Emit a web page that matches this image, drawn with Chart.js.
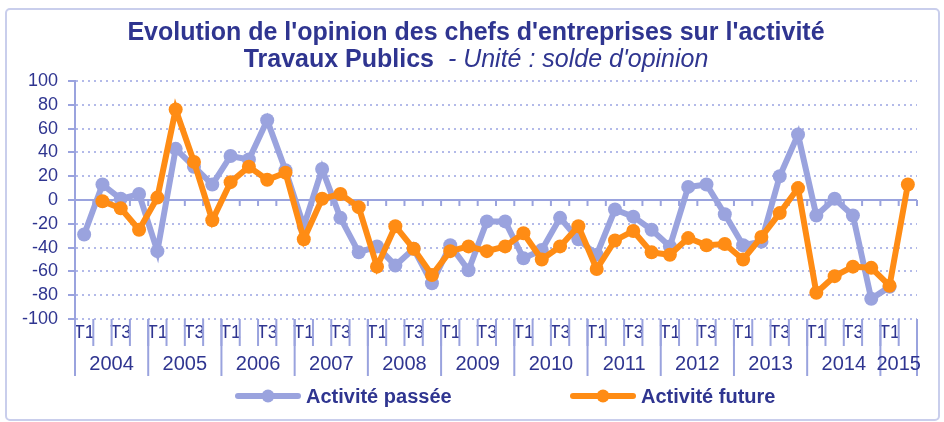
<!DOCTYPE html>
<html>
<head>
<meta charset="utf-8">
<script src="https://cdn.jsdelivr.net/npm/chart.js@4.4.1/dist/chart.umd.min.js"></script>
<style>
  html, body { margin: 0; padding: 0; background: #fff; }
  #wrap { position: relative; width: 944px; height: 422px; }
</style>
</head>
<body>
<div id="wrap"><canvas id="myChart" width="944" height="422"></canvas></div>
<script>
// données : solde d'opinion trimestriel, 2004 T1 -> 2015 T2
const years = ["2004", "2005", "2006", "2007", "2008", "2009", "2010", "2011", "2012", "2013", "2014", "2015"];
const quartersPerYear = [4, 4, 4, 4, 4, 4, 4, 4, 4, 4, 4, 2];
const quarterNames = ["T1", "T2", "T3", "T4"];

const activitePassee = [
  -29, 13, 1, 5,
  -43, 43, 28, 13,
  37, 34, 67, 25,
  -22, 26, -15, -44,
  -39, -55, -41, -70,
  -38, -59, -18, -18,
  -49, -42, -15, -33,
  -46, -8, -14, -25,
  -39, 11, 13, -12,
  -38, -35, 20, 55,
  -13, 1, -13, -83,
  -73, null
];
const activiteFuture = [
  null, -1, -7, -25,
  2, 76, 32, -17,
  15, 28, 17, 23,
  -33, 1, 5, -6,
  -56, -22, -41, -63,
  -43, -39, -43, -39,
  -28, -50, -39, -22,
  -58, -34, -26, -44,
  -46, -32, -38, -37,
  -50, -31, -11, 10,
  -78, -64, -56, -57,
  -72, 13
];

const titleLine1 = "Evolution de l'opinion des chefs d'entreprises sur l'activité";
const titleBold = "Travaux Publics";
const titleItalic = "  - Unité : solde d'opinion";

const quarterLabels = [];
quartersPerYear.forEach((n) => {
  for (let q = 0; q < n; q++) quarterLabels.push(quarterNames[q]);
});

const navy = "#2F3590";
const blue = "#9AA3DE";
const orange = "#FF8C14";
const axisBlue = "#9AA3DE";
const gridBlue = "#B3BAE9";
const fontFam = '"Liberation Sans", Arial, sans-serif';

const extras = {
  id: "extras",
  beforeDraw(chart) {
    const ctx = chart.ctx;
    ctx.save();
    ctx.fillStyle = "#fff";
    ctx.fillRect(0, 0, chart.width, chart.height);
    ctx.strokeStyle = "#C9CEEC";
    ctx.lineWidth = 2;
    ctx.beginPath();
    ctx.roundRect(6, 9, 933, 411, 4);
    ctx.stroke();

    // titre
    const cx = 476;
    ctx.fillStyle = navy;
    ctx.textBaseline = "middle";
    ctx.textAlign = "center";
    ctx.font = "bold 25px " + fontFam;
    ctx.fillText(titleLine1, cx, 33);
    const w1 = ctx.measureText(titleBold).width;
    ctx.font = "italic 25px " + fontFam;
    const w2 = ctx.measureText(titleItalic).width;
    const sx = cx - (w1 + w2) / 2;
    ctx.textAlign = "left";
    ctx.font = "bold 25px " + fontFam;
    ctx.fillText(titleBold, sx, 60);
    ctx.font = "italic 25px " + fontFam;
    ctx.fillText(titleItalic, sx + w1, 60);
    ctx.restore();
  },
  beforeDatasetsDraw(chart) {
    const { ctx, chartArea, scales } = chart;
    const x = scales.x;
    const y = scales.y;
    const half = (x.getPixelForValue(1) - x.getPixelForValue(0)) / 2;
    const y0 = y.getPixelForValue(0);
    ctx.save();
    ctx.strokeStyle = axisBlue;
    ctx.lineWidth = 2;
    ctx.beginPath();
    ctx.moveTo(chartArea.left, y0);
    ctx.lineTo(chartArea.right, y0);
    for (let i = 1; i <= quarterLabels.length; i++) {
      const bx = x.getPixelForValue(i - 1) + half;
      ctx.moveTo(bx, y0);
      ctx.lineTo(bx, y0 + 6);
    }
    ctx.stroke();
    ctx.restore();
  },
  afterDraw(chart) {
    const { ctx, chartArea, scales } = chart;
    const x = scales.x;
    ctx.save();

    // séparateurs trimestres / années
    const half = (x.getPixelForValue(1) - x.getPixelForValue(0)) / 2;
    const bottom = chartArea.bottom;
    ctx.strokeStyle = axisBlue;
    ctx.lineWidth = 2;
    ctx.beginPath();
    for (let i = 0; i <= quarterLabels.length; i++) {
      const bx = i < quarterLabels.length ? x.getPixelForValue(i) - half : x.getPixelForValue(i - 1) + half;
      ctx.moveTo(bx, bottom);
      ctx.lineTo(bx, bottom + 27);
    }
    ctx.stroke();
    let start = 0;
    ctx.font = "20px " + fontFam;
    ctx.fillStyle = navy;
    ctx.textAlign = "center";
    ctx.textBaseline = "middle";
    years.forEach((yr, k) => {
      const n = quartersPerYear[k];
      const left = x.getPixelForValue(start) - half;
      const right = x.getPixelForValue(start + n - 1) + half;
      ctx.beginPath();
      ctx.moveTo(left, bottom);
      ctx.lineTo(left, bottom + 57);
      if (k === years.length - 1) {
        ctx.moveTo(right, bottom);
        ctx.lineTo(right, bottom + 57);
      }
      ctx.stroke();
      ctx.fillText(yr, (left + right) / 2, bottom + 45);
      start += n;
    });

    // légende
    const items = [
      { ds: chart.data.datasets[0], x: 235 },
      { ds: chart.data.datasets[1], x: 570 },
    ];
    const ly = 396;
    ctx.font = "bold 20px " + fontFam;
    ctx.textAlign = "left";
    items.forEach((it) => {
      ctx.strokeStyle = it.ds.borderColor;
      ctx.lineWidth = 6;
      ctx.lineCap = "round";
      ctx.beginPath();
      ctx.moveTo(it.x + 3, ly);
      ctx.lineTo(it.x + 63, ly);
      ctx.stroke();
      ctx.fillStyle = it.ds.borderColor;
      ctx.beginPath();
      ctx.arc(it.x + 33, ly, 6.5, 0, Math.PI * 2);
      ctx.fill();
      ctx.fillStyle = navy;
      ctx.fillText(it.ds.label, it.x + 71, ly + 1);
    });
    ctx.restore();
  },
};

new Chart(document.getElementById("myChart"), {
  type: "line",
  data: {
    labels: quarterLabels,
    datasets: [
      {
        label: "Activité passée",
        data: activitePassee,
        borderColor: blue,
        backgroundColor: blue,
        borderWidth: 6,
        pointRadius: 7,
        pointBorderWidth: 0,
        pointBackgroundColor: blue,
        tension: 0,
        order: 1,
      },
      {
        label: "Activité future",
        data: activiteFuture,
        borderColor: orange,
        backgroundColor: orange,
        borderWidth: 6,
        pointRadius: 7,
        pointBorderWidth: 0,
        pointBackgroundColor: orange,
        tension: 0,
        order: 0,
      },
    ],
  },
  options: {
    responsive: false,
    animation: false,
    events: [],
    layout: { padding: { left: 10, right: 27, top: 81, bottom: 0 } },
    plugins: {
      legend: { display: false },
      tooltip: { enabled: false },
      title: { display: false },
    },
    scales: {
      x: {
        type: "category",
        offset: true,
        grid: { display: false, drawTicks: false },
        border: { display: false },
        ticks: {
          autoSkip: false,
          maxRotation: 0,
          padding: 3,
          color: navy,
          font: { size: 18, family: fontFam },
          callback: function (val, idx) {
            return idx % 2 === 0 ? this.getLabelForValue(val) : "";
          },
        },
        afterFit: (s) => { s.height = 103; },
      },
      y: {
        min: -100,
        max: 100,
        ticks: {
          stepSize: 20,
          autoSkip: false,
          padding: 10,
          color: navy,
          font: { size: 18, family: fontFam },
        },
        grid: {
          color: (c) => (c.tick && c.tick.value === 0 ? "rgba(0,0,0,0)" : gridBlue),
          lineWidth: 2,
          tickLength: 7,
          tickColor: axisBlue,
          tickWidth: 2,
        },
        border: {
          display: true,
          color: axisBlue,
          width: 2,
          dash: [2, 4],
        },
        afterFit: (s) => { s.width = 65; },
      },
    },
  },
  plugins: [extras],
});
</script>
</body>
</html>
